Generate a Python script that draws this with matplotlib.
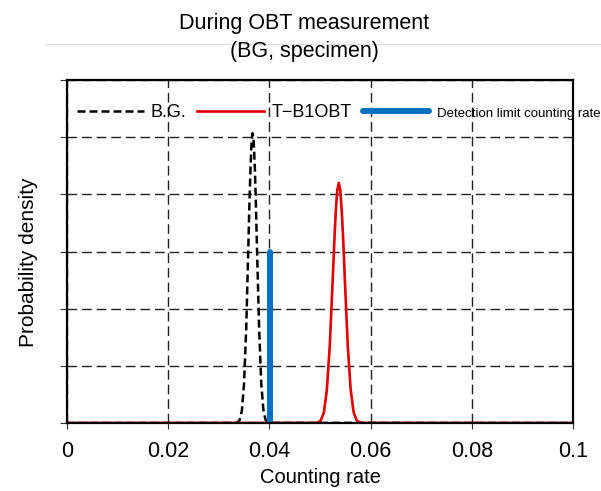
import matplotlib.pyplot as plt
from matplotlib.lines import Line2D

plt.rcParams['font.family'] = ['Liberation Sans', 'DejaVu Sans']

# values
bg_x = [0.0, 0.0333, 0.03373, 0.03415, 0.03458, 0.0350, 0.03543, 0.03585, 0.03606, 0.03628,
        0.03649, 0.0367, 0.03691, 0.03713, 0.03734, 0.03755, 0.03798, 0.0384, 0.03883,
        0.03925, 0.03968, 0.0401, 0.1]
bg_y = [0.0, 0.002, 0.011, 0.056, 0.22, 0.69, 1.65, 3.08, 3.83, 4.47,
        4.91, 5.07, 4.91, 4.47, 3.83, 3.08, 1.65, 0.69, 0.22,
        0.056, 0.011, 0.002, 0.0]

obt_x = [0.0, 0.04898, 0.04957, 0.05016, 0.05075, 0.05134, 0.05193, 0.05252, 0.05282, 0.05311,
         0.0534, 0.0537, 0.0540, 0.05429, 0.05459, 0.05488, 0.05547, 0.05606, 0.05665,
         0.05724, 0.05783, 0.05842, 0.1]
obt_y = [0.0, 0.001, 0.009, 0.047, 0.18, 0.57, 1.36, 2.55, 3.17, 3.71,
         4.07, 4.20, 4.07, 3.71, 3.17, 2.55, 1.36, 0.57, 0.18,
         0.047, 0.009, 0.001, 0.0]

limit_x = [0.0402, 0.0402]
limit_y = [0.0, 3.0]

xticks = [0, 0.02, 0.04, 0.06, 0.08, 0.1]
xtick_labels = ["0", "0.02", "0.04", "0.06", "0.08", "0.1"]

fig = plt.figure(figsize=(6.01, 4.91), dpi=100)
ax = fig.add_axes([0.111, 0.1385, 0.843, 0.6985])

ax.plot(bg_x, bg_y, color="black", lw=1.8, dashes=(3.2, 1.6), label="B.G.")
ax.plot(obt_x, obt_y, color="#e00000", lw=1.9, label="T\u2212B1OBT")
ax.plot(limit_x, limit_y, color="#0070c0", lw=4.3, solid_capstyle="round",
        label="Detection limit counting rate")

ax.set_xlim(0, 0.1)
ax.set_ylim(0, 6)
ax.set_xticks(xticks)
ax.set_xticklabels(xtick_labels, fontsize=15.5)
ax.set_yticks(range(7))
ax.set_yticklabels([])
ax.tick_params(axis="x", length=4, pad=9, color="#333333")
ax.tick_params(axis="y", length=5, color="#333333")
ax.grid(True, color="#222222", lw=1, dashes=(7, 3.5))
ax.set_axisbelow(True)
for s in ax.spines.values():
    s.set_linewidth(1.6)

ax.set_xlabel("Counting rate", fontsize=14.5, labelpad=4)
ax.set_ylabel("Probability density", fontsize=15)
ax.yaxis.set_label_coords(-0.057, 0.47)

leg = ax.legend(loc="center left", bbox_to_anchor=(0.02, 0.904), ncol=3, frameon=False,
                fontsize=13, handlelength=3.7, handletextpad=0.4, columnspacing=0.6,
                borderpad=0, borderaxespad=0)
leg.get_texts()[2].set_fontsize(9.5)
for t in leg.get_texts():
    t.set_clip_on(False)

fig.text(0.506, 0.9236, "During OBT measurement\n(BG, specimen)", ha="center", va="center",
         fontsize=15.5, linespacing=1.4)
fig.add_artist(Line2D([0.075, 1.0], [0.910, 0.910], color="#dddddd", lw=0.8, zorder=0))

fig.savefig("out.png", dpi=100)
